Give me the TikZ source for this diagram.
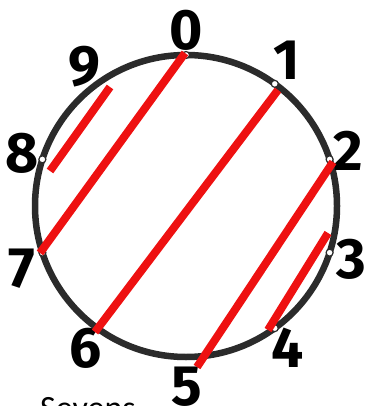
\documentclass[tikz,border=0pt]{standalone}
\usepackage{fontspec}
\setmainfont{Fira Sans}
\newfontfamily\capfont{Carlito}
\usetikzlibrary{calc}
\definecolor{ringgray}{HTML}{2B2B2B}
\definecolor{chordred}{HTML}{EE1111}
\begin{document}
\begin{tikzpicture}[x=1pt,y=-1pt,
  ring/.style={draw=ringgray,line width=6.5pt},
  chord/.style={draw=chordred,line width=8pt,line cap=butt},
  dot/.style={circle,draw=ringgray,fill=white,line width=1.2pt,inner sep=0pt,minimum size=7pt},
  digit/.style={anchor=base,inner sep=0pt,font=\fontsize{57}{57}\selectfont\bfseries}]
\useasboundingbox (0,0) rectangle (365,406);
\coordinate (c) at (186,206);
\draw[ring] (c) circle[radius=151];
% points on the ring
\foreach \k in {0,...,9}{
  \coordinate (p\k) at ($(c)+({90-36*\k}:151)$);
}
% labels
\node[digit] (l0) at (186,50) {0};
\node[digit] (l1) at (287,80) {1};
\node[digit] (l2) at (348,170) {2};
\node[digit] (l3) at (351,278) {3};
\node[digit] (l4) at (288,367) {4};
\node[digit] (l5) at (187,405) {5};
\node[digit] (l6) at (86,367) {6};
\node[digit] (l7) at (22,287) {7};
\node[digit] (l8) at (22,172) {8};
\node[digit] (l9) at (84,86) {9};
\foreach \k in {1,2,3,4,5,7,8,9}{
  \node[dot] (d\k) at (p\k) {};
}
% chord end points
\coordinate (a0) at (185,53);
\coordinate (a7) at (40,253);
\coordinate (a1) at (278,90);
\coordinate (a6) at (95,332);
\coordinate (a2) at (333,162);
\coordinate (a5) at (197,367);
\coordinate (a9) at (110,87);
\coordinate (a8) at (50,171);
\coordinate (a3) at (328,233);
\coordinate (a4) at (268,330);
\draw[chord] (a0) -- (a7);
\draw[chord] (a1) -- (a6);
\draw[chord] (a2) -- (a5);
\draw[chord] (a9) -- (a8);
\draw[chord] (a3) -- (a4);
\node[anchor=base west,inner sep=0pt,font=\capfont\fontsize{34}{34}\selectfont] (title) at (40,419) {Sevens};
\end{tikzpicture}
\end{document}
